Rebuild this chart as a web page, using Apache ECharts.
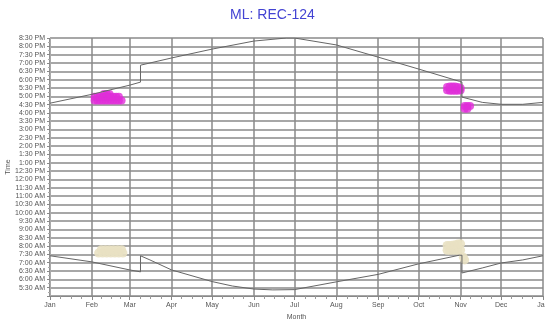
<!DOCTYPE html>
<html>
<head>
<meta charset="utf-8">
<script src="https://cdn.jsdelivr.net/npm/echarts@6/dist/echarts.min.js"></script>
<style>html,body{margin:0;padding:0;background:#fff}#c{width:545px;height:320px}</style>
</head>
<body>
<div id="c"></div>
<script>
// Day of year (0 = Jan 1) and time of day in minutes after midnight
var monthNames = ['Jan','Feb','Mar','Apr','May','Jun','Jul','Aug','Sep','Oct','Nov','Dec'];
var sunsetDays  = [0, 31, 59, 67, 67, 90, 120, 151, 175, 181, 212, 243, 273, 303, 305, 305, 320, 334, 350, 365];
var sunsetTimes = [995, 1027, 1060, 1071, 1132, 1158, 1190, 1219, 1230, 1230, 1205, 1161, 1118, 1074, 1071, 1017, 998, 991, 991, 998];
var sunriseDays  = [0, 31, 59, 67, 67, 74, 90, 120, 135, 151, 165, 181, 212, 243, 273, 303, 305, 305, 320, 334, 350, 365];
var sunriseTimes = [445, 423, 394, 387, 445, 430, 394, 352, 336, 325, 322, 323, 351, 378, 416, 447, 447, 383, 401, 419, 430, 445];
// observation clusters: [day, minutes]
var pinkObs = [
  [33,1005],[35,1005],[37,1005],[39,1005],[41,1005],[43,1005],[45,1005],[47,1005],[49,1005],[51,1005],[53,1005],
  [33,1018],[35,1018],[37,1018],[39,1018],[41,1018],[43,1018],[45,1018],[47,1018],[49,1018],[51,1018],
  [40,1028],[42,1028],[44,1028],
  [294,1042],[296,1040],[298,1040],[300,1040],[302,1040],[304,1042],
  [294,1053],[296,1055],[298,1055],[300,1055],[302,1053],[304,1050],
  [307,985],[309,985],[311,985],[307,975],[309,975]
];
var beigeObs = [
  [36,455],[39,455],[42,455],[45,455],[48,455],[51,455],[54,455],
  [38,467],[41,467],[44,467],[47,467],[50,467],[53,467],
  [294,465],[296,465],[298,465],[300,465],[302,465],[304,465],
  [294,482],[296,482],[298,483],[300,485],[302,487],[304,488],
  [306,440],[307,430]
];

var year0 = new Date(2023, 0, 1).getTime();
function ts(day) { return year0 + day * 86400000; }
function pairs(days, times) { return days.map(function (d, i) { return [ts(d), times[i]]; }); }
function obs(list) { return list.map(function (p) { return [ts(p[0]), p[1]]; }); }
function fmtTime(v) {
  var h = Math.floor(v / 60), m = v % 60;
  var ap = h >= 12 ? 'PM' : 'AM';
  var hh = h % 12; if (hh === 0) hh = 12;
  return hh + ':' + (m < 10 ? '0' : '') + m + ' ' + ap;
}

var chart = echarts.init(document.getElementById('c'), null, {renderer: 'canvas'});
chart.setOption({
  animation: false,
  backgroundColor: '#ffffff',
  title: {
    text: 'ML: REC-124', left: 'center', top: 3,
    textStyle: {color: '#4343d3', fontSize: 14, fontWeight: 'normal', fontFamily: 'Liberation Sans, Arial, sans-serif'}
  },
  grid: {left: 50, right: 2, top: 38, bottom: 24, containLabel: false, outerBoundsMode: 'none'},
  xAxis: {
    type: 'time',
    min: ts(0), max: ts(365),
    splitNumber: 12,
    name: 'Month', nameLocation: 'middle', nameGap: 18, nameMoveOverlap: false,
    nameTextStyle: {fontSize: 7, color: '#555', fontFamily: 'Liberation Sans, Arial, sans-serif'},
    axisLine: {show: true, lineStyle: {color: '#888', width: 1}},
    axisTick: {show: true, length: 4, lineStyle: {color: '#888'}},
    minorTick: {show: true, splitNumber: 4, length: 3, lineStyle: {color: '#999'}},
    axisLabel: {
      fontSize: 7, color: '#555', margin: 6, showMinLabel: true, showMaxLabel: true,
      fontFamily: 'Liberation Sans, Arial, sans-serif',
      formatter: function (v) { return monthNames[new Date(v).getMonth()]; }
    },
    splitLine: {show: true, lineStyle: {color: '#8a8a8a', width: 1.5}}
  },
  yAxis: {
    type: 'value',
    min: 300, max: 1230, interval: 30,
    name: 'Time', nameLocation: 'middle', nameGap: 38, nameRotate: 90, nameMoveOverlap: false,
    nameTextStyle: {fontSize: 7, color: '#555', fontFamily: 'Liberation Sans, Arial, sans-serif'},
    axisLine: {show: true, lineStyle: {color: '#aaa', width: 1}},
    axisTick: {show: true, length: 3, lineStyle: {color: '#888'}},
    minorTick: {show: true, splitNumber: 2, length: 2, lineStyle: {color: '#aaa'}},
    axisLabel: {
      fontSize: 7, color: '#555', margin: 5, showMinLabel: false,
      fontFamily: 'Liberation Sans, Arial, sans-serif',
      formatter: fmtTime
    },
    splitLine: {show: true, lineStyle: {color: '#8a8a8a', width: 1.5}}
  },
  series: [
    {type: 'scatter', data: obs(beigeObs), symbol: 'circle', symbolSize: 9,
     itemStyle: {color: '#e9e1c3', opacity: 0.9}, silent: true, z: 2},
    {type: 'scatter', data: obs(pinkObs), symbol: 'circle', symbolSize: 8,
     itemStyle: {color: '#e02ed8'}, silent: true, z: 2},
    {type: 'line', data: pairs(sunsetDays, sunsetTimes), showSymbol: false,
     lineStyle: {color: '#666', width: 1}, z: 3},
    {type: 'line', data: pairs(sunriseDays, sunriseTimes), showSymbol: false,
     lineStyle: {color: '#666', width: 1}, z: 3}
  ]
});
</script>
</body>
</html>
